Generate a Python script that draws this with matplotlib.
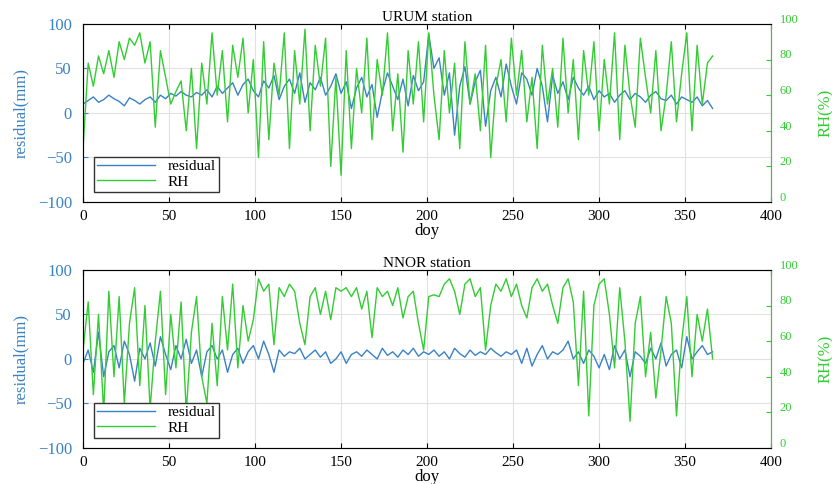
import numpy as np
import matplotlib.pyplot as plt
from matplotlib.transforms import ScaledTranslation

plt.rcParams['font.family'] = ['Liberation Serif', 'DejaVu Serif']

doy = np.arange(0, 367, 3)

# URUM station
urum_res = [10, 14, 18, 12, 15, 20, 16, 13, 8, 17, 14, 10, 15, 18, 12, 20, 16, 22, 19, 24, 20,
            18, 23, 20, 26, 18, 30, 22, 28, 34, 20, 32, 38, 25,
            18, 36, 28, 42, 15, 30, 38, 22, 45, 12, 34, 26, 40, 20, 30, 44, 22,
            35, 5, 28, 40, 18, 32, -5, 24, 45, 30, 15, 38, 8, 42, 25, 35,
            88, 50, 62, 20, 45, -25, 30, 52, 10, 35, 48, -15, 25, 40, 18, 55, 30,
            10, 45, 38, 20, 50, 30, -10, 42, 22, 35, 15, 40, 28, 20, 30, 15, 25,
            18, 22, 12, 20, 25, 15, 22, 18, 12, 20, 24, 16, 14, 20, 10, 18, 15, 12, 18, 8, 14, 5]
urum_rh = [30, 78, 65, 82, 72, 85, 70, 90, 80, 92, 88, 95, 78, 90, 42, 85, 70, 55, 62, 68, 40,
           75, 30, 78, 55, 95, 60, 85, 45, 88, 70, 92, 50, 80,
           25, 90, 35, 78, 60, 95, 30, 85, 55, 97, 40, 88, 65, 92, 20, 70, 15,
           85, 30, 75, 50, 92, 35, 80, 60, 95, 40, 72, 28, 85, 55, 90, 45,
           95, 60, 35, 85, 50, 78, 30, 90, 55, 72, 40, 88, 25, 65, 80, 45, 92,
           60, 85, 45, 70, 30, 88, 55, 75, 42, 92, 50, 80, 35, 85, 60, 90, 40,
           80, 55, 95, 35, 88, 60, 42, 92, 70, 50, 85, 40, 60, 90, 45, 72, 95, 40, 88, 55, 78, 82]

# NNOR station
nnor_res = [-5, 10, -15, 30, -20, 8, 15, -10, 20, 5, -25, 12, 0, 18, -8, 25, 5, -12, 15, 0, 22, -5, 10, -20, 8,
            15, 0, 10, -15, 5, 12, -5, 8, 15,
            0, 20, 5, -15, 10, 3, 8, 6, 12, 0, 5, 10, 2, 8, -5, 0, 8,
            -5, 5, 8, 3, 10, 5, 0, 12, 4, 8, 2, 10, 5, 12, 3, 8,
            5, 10, 3, 8, 0, 12, 6, 2, 10, 4, 8, 5, 12, 7, 3, 8, 5,
            10, -5, 12, -8, 5, 15, 0, 8, 5, 10, 20, 0, 8, -5, 10, 3, -10,
            5, -12, 15, 0, 10, -20, 8, 3, -5, 12, 0, 18, -8, 5, 10, -10, 25, 0, 8, 15, 5, 8]
nnor_rh = [55, 82, 30, 75, 20, 88, 40, 85, 25, 70, 90, 35, 80, 22, 60, 88, 30, 75, 45, 82, 20, 65, 85, 40, 25,
           70, 35, 85, 55, 92, 45, 80, 60, 72,
           95, 88, 92, 58, 90, 85, 92, 88, 70, 58, 85, 90, 75, 88, 72, 90, 88,
           90, 85, 90, 78, 88, 62, 90, 85, 88, 80, 90, 73, 85, 88, 70, 55,
           85, 86, 85, 92, 95, 88, 75, 92, 95, 85, 90, 55, 80, 92, 88, 95, 85,
           92, 80, 73, 90, 95, 88, 92, 80, 70, 90, 95, 82, 35, 88, 18, 80, 92,
           95, 75, 45, 90, 60, 15, 70, 85, 40, 65, 28, 55, 85, 70, 18, 60, 85, 40, 75, 60, 78, 50]

stations = [("URUM station", urum_res, urum_rh), ("NNOR station", nnor_res, nnor_rh)]

blue = '#3a82c4'
green = '#33cc33'
fig = plt.figure(figsize=(8.32, 4.84), dpi=100)
boxes = [[0.0998, 0.5826, 0.827, 0.368], [0.0998, 0.0744, 0.827, 0.368]]

# nudge the RH tick labels up a little so the 0 clears the x tick label 400
lift = ScaledTranslation(0, 4 / 72, fig.dpi_scale_trans)

for box, (title, res, rh) in zip(boxes, stations):
    ax = fig.add_axes(box)
    l1, = ax.plot(doy, res, color=blue, lw=1.0, label='residual')
    ax.set_xlim(0, 400)
    ax.set_ylim(-100, 100)
    ax.set_xticks(np.arange(0, 401, 50))
    ax.set_yticks([-100, -50, 0, 50, 100])
    ax.grid(True, color='#e2e2e2', lw=0.8)
    ax.tick_params(axis='y', colors=blue, labelsize=12, direction='in', right=True, pad=8)
    ax.tick_params(axis='x', labelsize=11, direction='in', top=True, pad=6)
    ax.set_ylabel('residual(mm)', color=blue, fontsize=12, labelpad=6)
    ax.set_xlabel('doy', fontsize=12, labelpad=0)
    ax.set_title(title, fontsize=11, pad=2)
    for s in ax.spines.values():
        s.set_color('#888888')

    ax2 = ax.twinx()
    l2, = ax2.plot(doy, rh, color=green, lw=1.0, label='RH')
    ax2.set_ylim(0, 100)
    ax2.set_yticks(np.arange(0, 101, 20))
    ax2.tick_params(axis='y', colors=green, labelsize=9, direction='in', pad=6)
    for lab in ax2.get_yticklabels():
        lab.set_transform(lab.get_transform() + lift)
    ax2.spines['right'].set_color(green)
    ax2.set_ylabel('RH(%)', color=green, fontsize=12, labelpad=14)
    ax2.legend([l1, l2], ['residual', 'RH'], loc='lower left', fontsize=11,
               fancybox=False, edgecolor='#333333', framealpha=1,
               handlelength=3.8, borderpad=0.2, labelspacing=0.1,
               bbox_to_anchor=(0.005, 0.015))

fig.savefig('out.png', dpi=100)
